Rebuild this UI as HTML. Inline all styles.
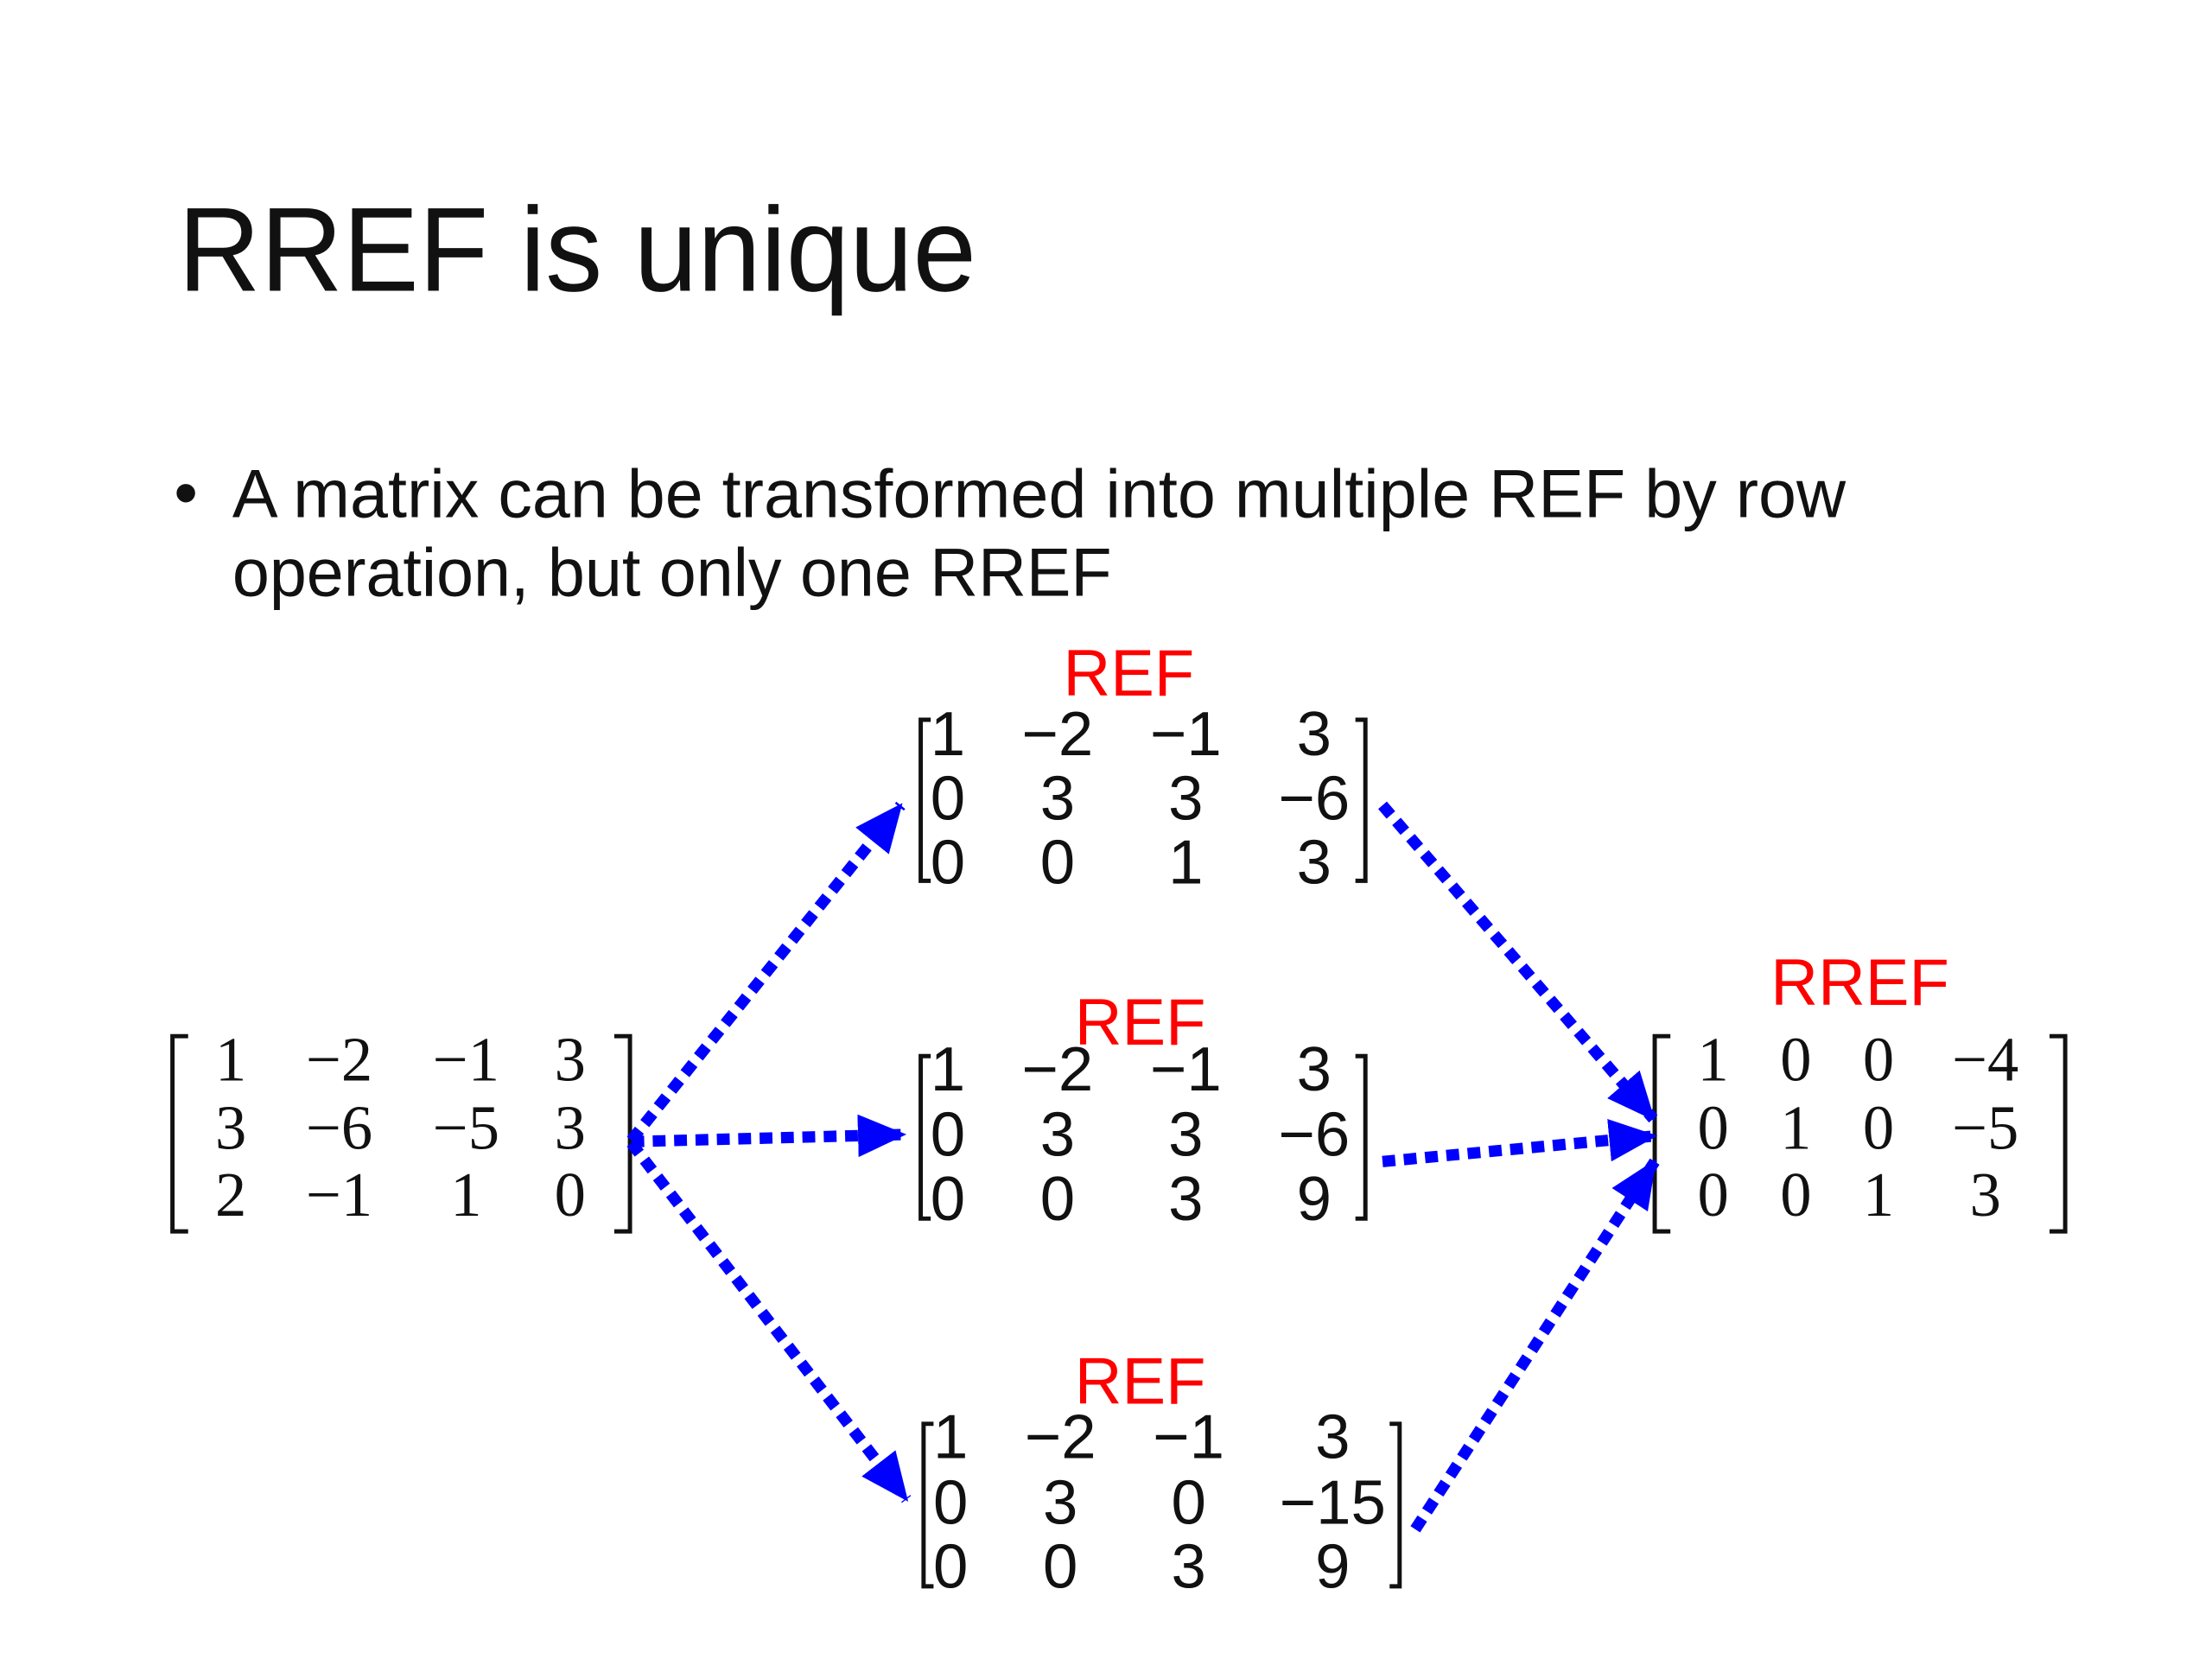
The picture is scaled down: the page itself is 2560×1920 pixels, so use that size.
<!DOCTYPE html>
<html><head><meta charset="utf-8">
<style>
html,body{margin:0;padding:0;background:#fff;}
svg{display:block;}
.m{font-family:"Liberation Serif",serif;font-size:44px;fill:#111;}
.s{font-family:"Liberation Sans",sans-serif;font-size:44px;fill:#111;}
.r{font-family:"Liberation Sans",sans-serif;font-size:46px;fill:#f00;}
.br{fill:none;stroke:#111;stroke-width:3;}
.ar{fill:none;stroke:#0000ff;stroke-width:8;stroke-dasharray:9 6;}
</style></head>
<body>
<svg width="2560" height="1920" viewBox="0 0 1552 1164" xmlns="http://www.w3.org/2000/svg">
<defs>
<marker id="a" markerUnits="userSpaceOnUse" markerWidth="34" markerHeight="30" refX="32" refY="15" orient="auto">
<path d="M0,0 L34,15 L0,30 z" fill="#0000ff"/>
</marker>
</defs>
<text x="125" y="204" font-family="Liberation Sans,sans-serif" font-size="84" fill="#111" textLength="560" lengthAdjust="spacingAndGlyphs">RREF is unique</text>
<text x="122" y="362" font-family="Liberation Sans,sans-serif" font-size="48" fill="#111">•</text>
<text x="163" y="363" font-family="Liberation Sans,sans-serif" font-size="48" fill="#111" textLength="1132" lengthAdjust="spacingAndGlyphs">A matrix can be transformed into multiple REF by row</text>
<text x="163" y="418" font-family="Liberation Sans,sans-serif" font-size="48" fill="#111" textLength="617" lengthAdjust="spacingAndGlyphs">operation, but only one RREF</text>

<!-- left matrix -->
<path class="br" d="M132,727 H121 V864 H132 M431,727 H442 V864 H431"/>
<g class="m" text-anchor="middle">
<text x="162" y="758">1</text><text x="238" y="758">−2</text><text x="327" y="758">−1</text><text x="400" y="758">3</text>
<text x="162" y="806">3</text><text x="238" y="806">−6</text><text x="327" y="806">−5</text><text x="400" y="806">3</text>
<text x="162" y="853">2</text><text x="238" y="853">−1</text><text x="327" y="853">1</text><text x="400" y="853">0</text>
</g>

<!-- top REF -->
<text class="r" x="792" y="488" text-anchor="middle">REF</text>
<path class="br" d="M653,505 H646 V618 H653 M951,505 H958 V618 H951"/>
<g class="s" text-anchor="middle">
<text x="665" y="530">1</text><text x="742" y="530">−2</text><text x="832" y="530">−1</text><text x="922" y="530">3</text>
<text x="665" y="575">0</text><text x="742" y="575">3</text><text x="832" y="575">3</text><text x="922" y="575">−6</text>
<text x="665" y="620">0</text><text x="742" y="620">0</text><text x="832" y="620">1</text><text x="922" y="620">3</text>
</g>

<!-- middle REF -->
<text class="r" x="800" y="733" text-anchor="middle">REF</text>
<path class="br" d="M653,741 H646 V855 H653 M951,741 H958 V855 H951"/>
<g class="s" text-anchor="middle">
<text x="665" y="765">1</text><text x="742" y="765">−2</text><text x="832" y="765">−1</text><text x="922" y="765">3</text>
<text x="665" y="811">0</text><text x="742" y="811">3</text><text x="832" y="811">3</text><text x="922" y="811">−6</text>
<text x="665" y="856">0</text><text x="742" y="856">0</text><text x="832" y="856">3</text><text x="922" y="856">9</text>
</g>

<!-- bottom REF -->
<text class="r" x="800" y="985" text-anchor="middle">REF</text>
<path class="br" d="M655,999 H648 V1113 H655 M975,999 H982 V1113 H975"/>
<g class="s" text-anchor="middle">
<text x="667" y="1023">1</text><text x="744" y="1023">−2</text><text x="834" y="1023">−1</text><text x="935" y="1023">3</text>
<text x="667" y="1069">0</text><text x="744" y="1069">3</text><text x="834" y="1069">0</text><text x="935" y="1069">−15</text>
<text x="667" y="1114">0</text><text x="744" y="1114">0</text><text x="834" y="1114">3</text><text x="935" y="1114">9</text>
</g>

<!-- RREF -->
<text class="r" x="1305" y="705" text-anchor="middle">RREF</text>
<path class="br" d="M1172,727 H1161 V864 H1172 M1438,727 H1449 V864 H1438"/>
<g class="m" text-anchor="middle">
<text x="1202" y="758">1</text><text x="1260" y="758">0</text><text x="1318" y="758">0</text><text x="1393" y="758">−4</text>
<text x="1202" y="806">0</text><text x="1260" y="806">1</text><text x="1318" y="806">0</text><text x="1393" y="806">−5</text>
<text x="1202" y="853">0</text><text x="1260" y="853">0</text><text x="1318" y="853">1</text><text x="1393" y="853">3</text>
</g>

<!-- arrows -->
<line class="ar" x1="443" y1="800" x2="632" y2="565" marker-end="url(#a)"/>
<line class="ar" x1="443" y1="801" x2="634" y2="796" marker-end="url(#a)"/>
<line class="ar" x1="443" y1="802" x2="636" y2="1052" marker-end="url(#a)"/>
<line class="ar" x1="970" y1="565" x2="1160" y2="785" marker-end="url(#a)"/>
<line class="ar" x1="970" y1="815" x2="1161" y2="797" marker-end="url(#a)"/>
<line class="ar" x1="993" y1="1073" x2="1161" y2="815" marker-end="url(#a)"/>
</svg>
</body></html>
